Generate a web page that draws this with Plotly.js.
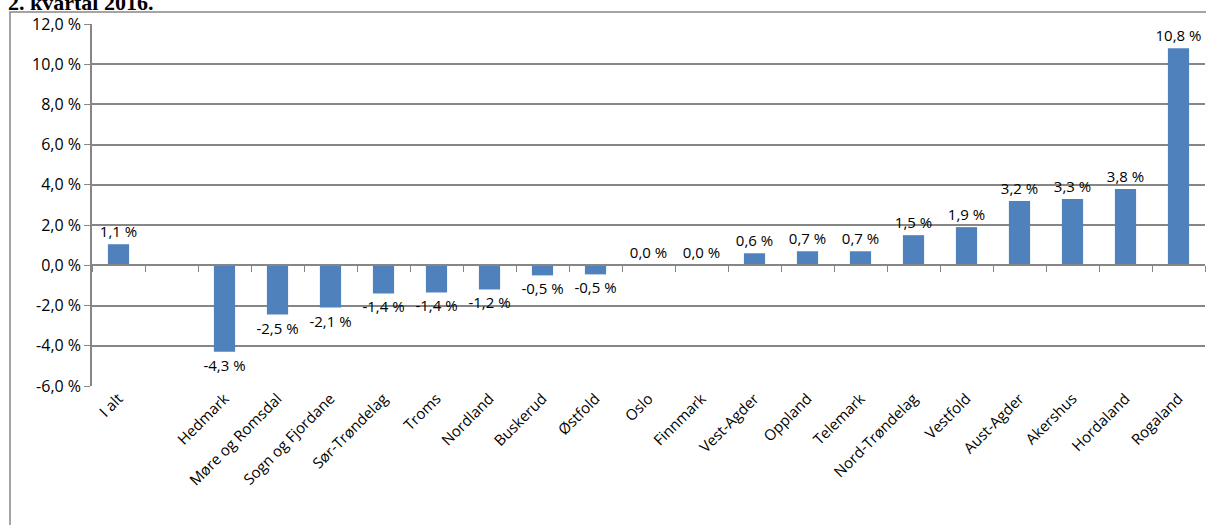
<!DOCTYPE html>
<html>
<head>
<meta charset="utf-8">
<script src="https://cdn.plot.ly/plotly-3.0.1.min.js"></script>
<style>body{margin:0;background:#fff}#chart{width:1206px;height:525px}</style>
</head>
<body>
<div id="chart"></div>
<script>
const categories = ['I alt', ' ', 'Hedmark', 'Møre og Romsdal', 'Sogn og Fjordane', 'Sør-Trøndelag', 'Troms',
    'Nordland', 'Buskerud', 'Østfold', 'Oslo', 'Finnmark', 'Vest-Agder', 'Oppland', 'Telemark',
    'Nord-Trøndelag', 'Vestfold', 'Aust-Agder', 'Akershus', 'Hordaland', 'Rogaland'];
const values = [1.05, null, -4.3, -2.45, -2.1, -1.4, -1.35, -1.2, -0.5, -0.45, 0, 0, 0.6, 0.7, 0.7,
    1.5, 1.9, 3.2, 3.3, 3.8, 10.8];
const labels = ['1,1 %', '', '-4,3 %', '-2,5 %', '-2,1 %', '-1,4 %', '-1,4 %', '-1,2 %', '-0,5 %', '-0,5 %',
    '0,0 %', '0,0 %', '0,6 %', '0,7 %', '0,7 %', '1,5 %', '1,9 %', '3,2 %', '3,3 %', '3,8 %', '10,8 %'];
const yTicks = [-6, -4, -2, 0, 2, 4, 6, 8, 10, 12];
const yTickText = yTicks.map(v => v.toFixed(1).replace('.', ',') + ' %');

const W = 1206, H = 525, L = 92, R = 1, T = 24, B = 139;
const plotH = H - T - B, plotW = W - L - R;
const zeroPos = (0 - (-6)) / 18;

Plotly.newPlot('chart', [{
    type: 'bar',
    x: categories,
    y: values,
    text: labels,
    textposition: 'outside',
    constraintext: 'none',
    cliponaxis: false,
    textfont: { family: 'Open Sans, Liberation Sans', size: 15, color: '#000' },
    marker: { color: '#4f81bd' },
    width: 0.4,
    hoverinfo: 'x+y'
}, {
    type: 'scatter', x: categories, y: categories.map(() => null), xaxis: 'x2', hoverinfo: 'none'
}], {
    width: W, height: H,
    paper_bgcolor: '#fff', plot_bgcolor: '#fff',
    margin: { l: L, r: R, t: T, b: B },
    showlegend: false,
    font: { family: 'Open Sans, Liberation Sans', size: 15, color: '#000' },
    xaxis: {
        type: 'category', tickangle: -45, showgrid: false, showline: false, ticks: '',
        tickfont: { size: 15 }, fixedrange: true
    },
    xaxis2: {
        type: 'category', overlaying: 'x', anchor: 'free', position: zeroPos,
        showline: true, linecolor: '#868686', linewidth: 1.5, ticks: 'outside', tickson: 'boundaries',
        ticklen: 6, tickcolor: '#868686', showticklabels: false, showgrid: false, matches: 'x'
    },
    yaxis: {
        range: [-6, 12], tickvals: yTicks, ticktext: yTickText, showgrid: true, gridcolor: '#868686',
        gridwidth: 1.5, zeroline: false, showline: true, linecolor: '#868686', linewidth: 1.5,
        ticks: 'outside', ticklen: 6, tickcolor: '#868686', tickfont: { size: 16 }
    },
    shapes: [{
        type: 'rect', xref: 'paper', yref: 'paper',
        x0: (10 - L) / plotW, x1: 1.05, y0: -0.6, y1: 1 + (T - 12) / plotH,
        line: { color: '#868686', width: 1.5 }, fillcolor: 'rgba(0,0,0,0)'
    }],
    annotations: [{
        text: '<b>2. kvartal 2016.</b>', xref: 'paper', yref: 'paper',
        x: (6 - L) / plotW, y: 1 + (T - 2) / plotH, xanchor: 'left', yanchor: 'middle',
        showarrow: false, font: { family: 'Liberation Serif, Times New Roman', size: 22, color: '#000' }
    }]
}, { displayModeBar: false });
</script>
</body>
</html>
